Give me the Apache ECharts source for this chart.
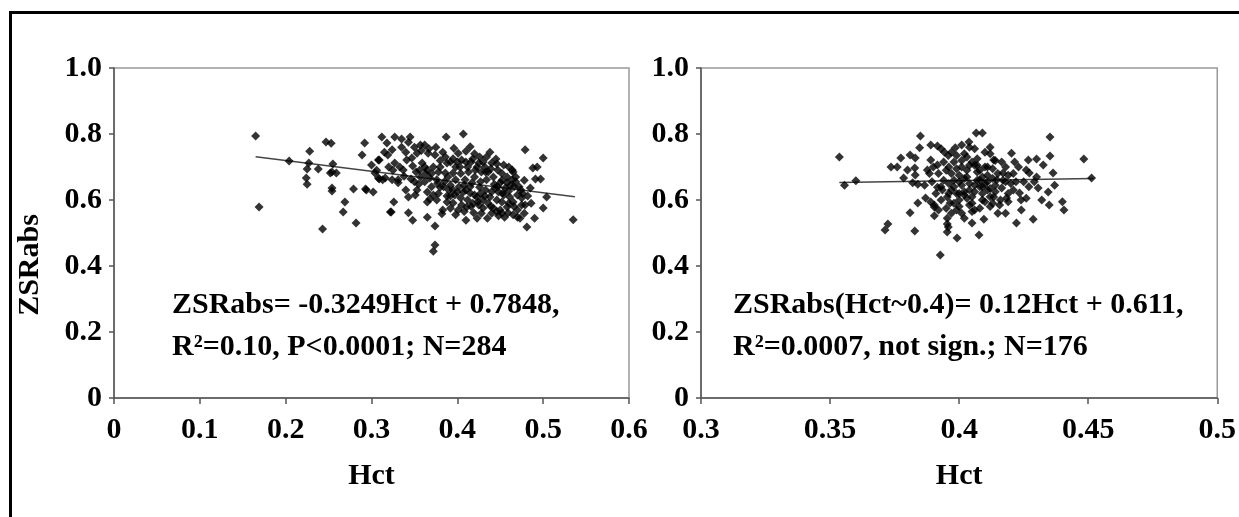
<!DOCTYPE html>
<html>
<head>
<meta charset="utf-8">
<script src="https://cdn.jsdelivr.net/npm/echarts@6/dist/echarts.min.js"></script>
<style>
html,body{margin:0;padding:0;background:#fff;}
#chart{width:1239px;height:517px;}
</style>
</head>
<body>
<div id="chart"></div>
<script>
// ---- Data ----
const leftHct = [0.165,0.169,0.204,0.228,0.227,0.225,0.224,0.225,0.238,0.247,0.253,0.255,0.252,0.259,0.254,0.254,0.269,0.267,0.243,0.282,
0.279,0.293,0.302,0.292,0.289,0.312,0.318,0.327,0.335,0.345,0.387,0.407,0.479,0.500,0.488,0.491,0.497,0.504,0.479,0.481,
0.374,0.372,0.374,0.365,0.382,0.343,0.348,0.323,0.326,0.343,0.351,0.365,0.365,0.388,0.401,0.410,0.423,0.435,0.450,0.465,
0.473,0.475,0.300,0.304,0.309,0.313,0.309,0.319,0.324,0.331,0.331,0.337,0.341,0.327,0.357,0.362,0.353,0.366,0.374,0.383,
0.386,0.359,0.365,0.372,0.380,0.357,0.368,0.376,0.380,0.389,0.395,0.401,0.405,0.412,0.423,0.426,0.434,0.438,0.421,0.409,
0.417,0.426,0.434,0.442,0.447,0.450,0.458,0.464,0.465,0.400,0.407,0.415,0.423,0.430,0.438,0.446,0.453,0.461,0.395,0.411,
0.419,0.430,0.442,0.458,0.470,0.294,0.322,0.308,0.316,0.324,0.308,0.500,0.464,0.415,0.383,0.470,0.459,0.254,0.340,0.348,
0.352,0.346,0.355,0.362,0.370,0.385,0.392,0.398,0.392,0.398,0.404,0.408,0.413,0.416,0.420,0.428,0.432,0.436,0.440,0.444,
0.448,0.452,0.456,0.460,0.466,0.470,0.474,0.478,0.412,0.418,0.425,0.436,0.452,0.465,0.404,0.392,0.378,0.372,0.386,0.378,
0.362,0.347,0.333,0.320,0.396,0.410,0.420,0.430,0.445,0.454,0.460,0.448,0.440,0.428,0.455,0.405,0.392,0.485,0.482,0.340,
0.353,0.368,0.395,0.400,0.427,0.443,0.468,0.475,0.493,0.535,
0.335,0.343,0.350,0.358,0.367,0.375,0.380,0.388,0.395,0.403,0.410,0.418,0.425,0.433,0.439,0.446,0.452,0.458,0.462,0.468,
0.472,0.476,0.356,0.363,0.370,0.377,0.384,0.390,0.397,0.402,0.410,0.415,0.420,0.427,0.433,0.440,0.447,0.454,0.460,0.466,
0.432,0.424,0.416,0.408,0.439,0.446,0.452,0.478,0.486,0.490,0.398,0.388,0.376,0.350,0.338,0.325,0.315,0.306];
const leftZSR = [0.794,0.579,0.718,0.748,0.712,0.694,0.667,0.648,0.694,0.776,0.772,0.709,0.682,0.682,0.636,0.627,0.594,0.564,0.512,0.530,
0.633,0.633,0.624,0.773,0.736,0.791,0.773,0.791,0.785,0.791,0.791,0.800,0.752,0.727,0.697,0.664,0.664,0.609,0.585,0.518,
0.464,0.445,0.521,0.548,0.558,0.561,0.539,0.564,0.594,0.609,0.615,0.594,0.624,0.594,0.570,0.539,0.545,0.545,0.570,0.555,
0.545,0.585,0.706,0.682,0.664,0.661,0.721,0.736,0.752,0.661,0.652,0.691,0.721,0.712,0.767,0.767,0.742,0.742,0.736,0.745,
0.730,0.712,0.691,0.700,0.700,0.670,0.667,0.661,0.639,0.670,0.682,0.742,0.721,0.700,0.700,0.730,0.730,0.745,0.691,0.661,
0.652,0.639,0.661,0.670,0.691,0.652,0.652,0.661,0.685,0.624,0.624,0.621,0.609,0.600,0.609,0.600,0.621,0.609,0.591,0.579,
0.561,0.576,0.576,0.579,0.570,0.630,0.564,0.667,0.667,0.661,0.721,0.576,0.691,0.761,0.570,0.548,0.561,0.685,0.745,0.703,
0.685,0.664,0.648,0.655,0.640,0.655,0.645,0.700,0.715,0.661,0.680,0.645,0.685,0.715,0.670,0.685,0.700,0.685,0.712,0.636,
0.624,0.680,0.636,0.627,0.640,0.615,0.630,0.660,0.600,0.590,0.585,0.590,0.594,0.594,0.606,0.612,0.620,0.615,0.682,0.685,
0.700,0.727,0.700,0.700,0.757,0.748,0.740,0.715,0.724,0.706,0.700,0.552,0.560,0.560,0.548,0.585,0.575,0.636,0.612,0.630,
0.630,0.603,0.630,0.715,0.655,0.648,0.670,0.606,0.700,0.540,
0.760,0.775,0.760,0.750,0.755,0.760,0.720,0.712,0.725,0.700,0.715,0.725,0.712,0.685,0.695,0.710,0.660,0.670,0.645,0.655,
0.640,0.620,0.690,0.680,0.680,0.650,0.640,0.630,0.615,0.640,0.630,0.640,0.615,0.620,0.630,0.625,0.640,0.615,0.590,0.580,
0.612,0.595,0.580,0.565,0.580,0.565,0.560,0.560,0.590,0.545,0.555,0.612,0.600,0.655,0.672,0.690,0.745,0.690];

const rightHct = [0.3536,0.3556,0.360,0.385,0.4066,0.409,0.3847,0.389,0.3916,0.393,0.3774,0.381,0.383,0.3736,0.376,0.380,0.3828,0.3785,0.383,0.382,
0.384,0.3866,0.3877,0.389,0.3916,0.387,0.389,0.3904,0.384,0.381,0.3904,0.3724,0.3713,0.3828,0.3927,0.3954,0.3958,0.3954,0.3992,0.4077,
0.4096,0.3916,0.3935,0.3954,0.3965,0.4352,0.4483,0.4513,0.4352,0.4326,0.4364,0.430,0.4268,0.4203,0.4215,0.423,0.426,0.4272,0.4291,0.4306,
0.4345,0.4349,0.4406,0.4241,0.4287,0.4222,0.4234,0.421,0.4184,0.4157,0.4165,0.418,0.4146,0.417,0.4165,0.4134,0.4134,0.3943,0.3985,0.401,
0.4038,0.3954,0.3904,0.396,0.397,0.398,0.398,0.399,0.400,0.400,0.401,0.401,0.402,0.403,0.403,0.404,0.404,0.405,0.405,0.406,
0.406,0.407,0.407,0.408,0.408,0.409,0.409,0.410,0.410,0.411,0.411,0.412,0.412,0.413,0.414,0.415,0.396,0.397,0.399,0.402,
0.404,0.405,0.392,0.394,0.395,0.393,0.392,0.418,0.419,0.420,0.419,0.418,0.406,0.400,0.402,0.3895,0.3885,0.3958,0.412,0.425,
0.426,0.430,0.432,0.437,0.440,
0.397,0.398,0.399,0.400,0.401,0.402,0.403,0.404,0.405,0.406,0.407,0.408,0.409,0.410,0.411,0.412,0.413,0.414,0.415,0.416,
0.396,0.397,0.398,0.399,0.401,0.403,0.405,0.407,0.409,0.411,0.413,0.400,0.402,0.404,0.406,0.408,0.410,0.412,0.414,0.395,
0.394,0.393,0.391,0.390,0.417,0.419,0.421,0.422,0.424,0.427];
const rightZSR = [0.730,0.645,0.658,0.794,0.803,0.803,0.758,0.767,0.764,0.755,0.727,0.736,0.727,0.700,0.700,0.691,0.697,0.667,0.676,0.652,
0.648,0.645,0.691,0.721,0.706,0.606,0.594,0.579,0.591,0.561,0.552,0.527,0.509,0.506,0.433,0.545,0.518,0.503,0.485,0.494,
0.542,0.639,0.630,0.609,0.591,0.791,0.724,0.667,0.733,0.706,0.682,0.724,0.721,0.742,0.715,0.700,0.691,0.682,0.655,0.636,
0.624,0.585,0.570,0.570,0.542,0.530,0.621,0.630,0.606,0.585,0.636,0.655,0.661,0.682,0.715,0.721,0.609,0.745,0.758,0.767,
0.776,0.527,0.585,0.700,0.680,0.660,0.640,0.620,0.600,0.580,0.560,0.720,0.740,0.690,0.670,0.650,0.630,0.610,0.590,0.570,
0.705,0.725,0.685,0.660,0.640,0.620,0.600,0.745,0.700,0.675,0.655,0.635,0.580,0.695,0.645,0.560,0.620,0.560,0.735,0.545,
0.760,0.530,0.680,0.660,0.690,0.600,0.570,0.700,0.675,0.650,0.620,0.560,0.645,0.655,0.615,0.655,0.680,0.735,0.760,0.655,
0.605,0.670,0.600,0.645,0.595,
0.745,0.715,0.695,0.675,0.645,0.625,0.605,0.585,0.565,0.755,0.705,0.690,0.670,0.650,0.630,0.610,0.590,0.720,0.680,0.600,
0.650,0.630,0.590,0.570,0.700,0.730,0.715,0.660,0.640,0.700,0.665,0.620,0.665,0.705,0.625,0.575,0.595,0.740,0.625,0.575,
0.715,0.640,0.620,0.700,0.660,0.595,0.680,0.655,0.600,0.640];

// regression line end points
const leftFitHct = [0.165, 0.537];
const leftFitZSR = [0.731, 0.610];
const rightFitHct = [0.3536, 0.452];
const rightFitZSR = [0.653, 0.665];

// tick labels
const yTickLabels = ['0','0.2','0.4','0.6','0.8','1.0'];
const leftXTickLabels = ['0','0.1','0.2','0.3','0.4','0.5','0.6'];
const rightXTickLabels = ['0.3','0.35','0.4','0.45','0.5'];

// text
const yName = 'ZSRabs';
const xName = 'Hct';
const leftNote = ['ZSRabs= -0.3249Hct + 0.7848,', 'R\u00B2=0.10, P<0.0001; N=284'];
const rightNote = ['ZSRabs(Hct~0.4)= 0.12Hct + 0.611,', 'R\u00B2=0.0007, not sign.; N=176'];

// ---- Chart ----
const FONT = "'Liberation Serif','Times New Roman',serif";
const zip = (a, b) => a.map((v, i) => [v, b[i]]);

function xAxisCfg(gi, min, max, interval, labels) {
  return {
    type: 'value', gridIndex: gi, min: min, max: max, interval: interval,
    name: xName, nameLocation: 'middle', nameGap: 63,
    nameTextStyle: {fontFamily: FONT, fontWeight: 'bold', fontSize: 30, color: '#000'},
    axisLine: {show: true, onZero: false, lineStyle: {color: '#555', width: 1.5}},
    axisTick: {show: true, inside: false, length: 6, lineStyle: {color: '#555', width: 1.5}},
    splitLine: {show: false},
    axisLabel: {
      margin: 17, fontFamily: FONT, fontWeight: 'bold', fontSize: 30, color: '#000',
      formatter: (v, i) => labels[i]
    }
  };
}
function yAxisCfg(gi) {
  return {
    type: 'value', gridIndex: gi, min: 0, max: 1, interval: 0.2,
    axisLine: {show: true, onZero: false, lineStyle: {color: '#555', width: 1.5}},
    axisTick: {show: true, inside: false, length: 5, lineStyle: {color: '#555', width: 1.5}},
    splitLine: {show: false},
    axisLabel: {
      margin: 12, fontFamily: FONT, fontWeight: 'bold', fontSize: 30, color: '#000',
      formatter: (v, i) => yTickLabels[i]
    }
  };
}

const chart = echarts.init(document.getElementById('chart'), null, {renderer: 'canvas'});
const textStyle = (t, x, y) => ({
  type: 'text', x: x, y: y, z: 100,
  style: {text: t, fontFamily: FONT, fontWeight: 'bold', fontSize: 30, fill: '#000',
          textAlign: 'left', textVerticalAlign: 'middle'}
});

chart.setOption({
  animation: false,
  backgroundColor: '#fff',
  grid: [
    {left: 114, top: 68, width: 515, height: 330, show: true, borderColor: '#999', borderWidth: 1.5, backgroundColor: 'transparent'},
    {left: 701, top: 68, width: 522, height: 330, show: true, borderColor: '#999', borderWidth: 1.5, backgroundColor: 'transparent'}
  ],
  xAxis: [
    xAxisCfg(0, 0, 0.6, 0.1, leftXTickLabels),
    xAxisCfg(1, 0.3, 0.5, 0.05, rightXTickLabels)
  ],
  yAxis: [yAxisCfg(0), yAxisCfg(1)],
  series: [
    {type: 'line', xAxisIndex: 0, yAxisIndex: 0, data: zip(leftFitHct, leftFitZSR), showSymbol: false,
     lineStyle: {color: '#444', width: 1.5}, z: 1},
    {type: 'scatter', xAxisIndex: 0, yAxisIndex: 0, data: zip(leftHct, leftZSR), symbol: 'diamond', symbolSize: 9,
     itemStyle: {color: '#000'}, z: 2},
    {type: 'line', xAxisIndex: 1, yAxisIndex: 1, data: zip(rightFitHct, rightFitZSR), showSymbol: false,
     lineStyle: {color: '#444', width: 1.5}, z: 1},
    {type: 'scatter', xAxisIndex: 1, yAxisIndex: 1, data: zip(rightHct, rightZSR), symbol: 'diamond', symbolSize: 9,
     itemStyle: {color: '#000'}, z: 2}
  ],
  graphic: [
    {type: 'rect', shape: {x: 10.5, y: 12.5, width: 1260, height: 540}, z: 100,
     style: {fill: 'none', stroke: '#000', lineWidth: 3}},
    {type: 'text', x: 30, y: 265, rotation: Math.PI / 2, z: 100,
     style: {text: yName, fontFamily: FONT, fontWeight: 'bold', fontSize: 30, fill: '#000',
             textAlign: 'center', textVerticalAlign: 'middle'}},
    textStyle(leftNote[0], 172, 305),
    textStyle(leftNote[1], 172, 347),
    textStyle(rightNote[0], 733, 305),
    textStyle(rightNote[1], 733, 347)
  ]
});
</script>
</body>
</html>
